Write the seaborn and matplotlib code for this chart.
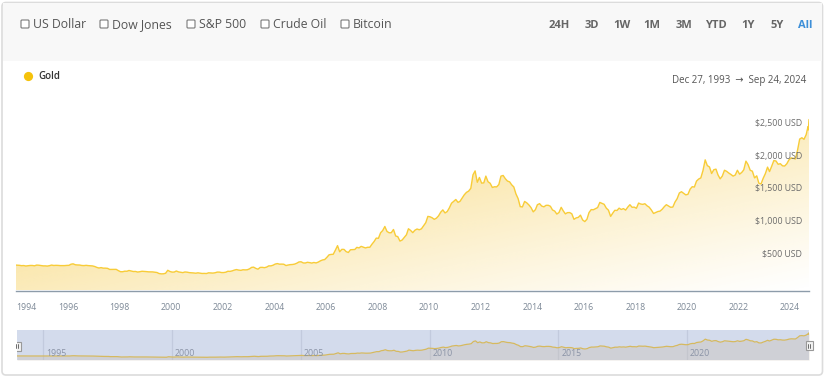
import numpy as np
import pandas as pd
import matplotlib
matplotlib.use("Agg")
import matplotlib.pyplot as plt
import matplotlib.dates as mdates
import matplotlib.transforms as mtransforms
from matplotlib.patches import Rectangle, FancyBboxPatch, Circle
import seaborn as sns

# --------------------------------
# DATA
# --------------------------------

start_date = "1993-12-27"
end_date = "2024-09-24"
start_price = 391
end_price = 2630

# monthly gold price (USD / oz), Jan 1994 .. Aug 2024
gold_usd = [
    387, 382, 384, 377, 381, 385, 385, 380, 391, 389, 384, 379,          # 1994
    379, 376, 382, 391, 385, 387, 386, 383, 383, 383, 386, 387,          # 1995
    405, 410, 396, 393, 392, 385, 383, 387, 383, 381, 378, 369,          # 1996
    355, 346, 352, 344, 344, 341, 324, 324, 323, 325, 306, 289,          # 1997
    289, 297, 296, 308, 299, 292, 293, 284, 289, 296, 294, 291,          # 1998
    287, 287, 286, 282, 277, 261, 256, 257, 265, 311, 293, 283,          # 1999
    284, 300, 286, 280, 275, 285, 282, 275, 273, 270, 266, 272,          # 2000
    266, 262, 263, 261, 272, 270, 268, 273, 283, 283, 276, 276,          # 2001
    282, 296, 294, 302, 314, 322, 314, 310, 319, 317, 319, 333,          # 2002
    356, 359, 340, 328, 355, 356, 351, 360, 379, 379, 389, 407,          # 2003
    414, 405, 406, 404, 384, 392, 398, 400, 406, 420, 439, 442,          # 2004
    424, 423, 434, 429, 422, 431, 424, 437, 456, 470, 476, 510,          # 2005
    549, 555, 557, 620, 690, 596, 633, 632, 598, 585, 627, 629,          # 2006
    631, 664, 655, 679, 667, 655, 665, 665, 712, 754, 806, 803,          # 2007
    889, 922, 985, 909, 888, 889, 939, 839, 829, 760, 776, 816,          # 2008
    858, 950, 924, 890, 928, 946, 934, 949, 996, 1043, 1140, 1134,       # 2009
    1118, 1095, 1113, 1148, 1205, 1240, 1193, 1215, 1271, 1343, 1370, 1400,  # 2010
    1356, 1372, 1424, 1473, 1510, 1529, 1572, 1780, 1840, 1665, 1739, 1652,  # 2011
    1656, 1760, 1673, 1650, 1585, 1596, 1594, 1630, 1760, 1770, 1721, 1684,  # 2012
    1671, 1627, 1593, 1487, 1414, 1290, 1286, 1370, 1349, 1316, 1275, 1210,  # 2013
    1244, 1320, 1336, 1299, 1287, 1310, 1311, 1296, 1239, 1222, 1176, 1200,  # 2014
    1280, 1227, 1179, 1198, 1199, 1181, 1095, 1117, 1125, 1159, 1086, 1060,  # 2015
    1097, 1199, 1245, 1242, 1260, 1276, 1355, 1341, 1326, 1267, 1236, 1140,  # 2016
    1192, 1234, 1231, 1267, 1246, 1260, 1237, 1283, 1320, 1280, 1283, 1265,  # 2017
    1345, 1331, 1325, 1335, 1303, 1282, 1238, 1185, 1199, 1215, 1221, 1250,  # 2018
    1291, 1320, 1300, 1280, 1284, 1360, 1413, 1500, 1520, 1495, 1471, 1480,  # 2019
    1560, 1597, 1592, 1683, 1715, 1732, 1846, 2010, 1922, 1900, 1800, 1858,  # 2020
    1867, 1780, 1718, 1760, 1850, 1834, 1807, 1785, 1760, 1777, 1850, 1790,  # 2021
    1817, 1856, 1990, 1937, 1849, 1836, 1732, 1764, 1650, 1640, 1726, 1798,  # 2022
    1898, 1830, 1913, 1999, 1992, 1942, 1951, 1918, 1915, 1950, 2010, 2040,  # 2023
    2034, 2023, 2160, 2330, 2350, 2326, 2398, 2470,                      # 2024
]

month_dates = pd.date_range("1994-01-15", periods=len(gold_usd), freq="MS") + pd.Timedelta(days=14)
dates = pd.DatetimeIndex([pd.Timestamp(start_date)]).append(month_dates).append(
    pd.DatetimeIndex([pd.Timestamp("2024-09-10"), pd.Timestamp(end_date)]))
prices = [start_price] + gold_usd + [2520, end_price]

df = pd.DataFrame({"date": dates, "price": prices})

y_ticks = [500, 1000, 1500, 2000, 2500]
y_labels = ["$500 USD", "$1,000 USD", "$1,500 USD", "$2,000 USD", "$2,500 USD"]

x_tick_years = list(range(1994, 2025, 2))
nav_years = [1995, 2000, 2005, 2010, 2015, 2020]

series_names = ["US Dollar", "Dow Jones", "S&P 500", "Crude Oil", "Bitcoin"]
ranges = ["24H", "3D", "1W", "1M", "3M", "YTD", "1Y", "5Y", "All"]

# --------------------------------
# STYLE
# --------------------------------

sns.set_style("white")
plt.rcParams["font.family"] = ["Open Sans", "DejaVu Sans"]

W, H = 826, 378
GOLD = "#f8cc38"


def px_rect(x0, y0, x1, y1):
    return [x0 / W, 1 - y1 / H, (x1 - x0) / W, (y1 - y0) / H]


fig = plt.figure(figsize=(W / 100, H / 100), dpi=100)

# --------------------------------
# CARD / HEADER
# --------------------------------

bg = fig.add_axes([0, 0, 1, 1], zorder=0)
bg.set_xlim(0, W)
bg.set_ylim(H, 0)
bg.axis("off")

bg.add_patch(FancyBboxPatch((2, 2.5), 820.5, 372.5,
                            boxstyle="round,pad=0,rounding_size=4",
                            fc="white", ec="#dcdcdc", lw=1.2))
bg.add_patch(Rectangle((2.6, 3.1), 819.3, 58, fc="#f8f8f8", ec="none"))

box_x = [21, 100, 187, 261, 341]
for bx, name in zip(box_x, series_names):
    bg.add_patch(FancyBboxPatch((bx, 20), 8, 8,
                                boxstyle="round,pad=0,rounding_size=1",
                                fc="white", ec="#7a7a7a", lw=0.8))
    bg.text(bx + 12, 24.8, name, fontsize=8.8, color="#555555",
            va="center", ha="left")

range_x = [559, 592, 622, 652, 684, 716, 748, 777, 805]
for rx, r in zip(range_x, ranges):
    bg.text(rx, 25, r, fontsize=8, fontweight="bold",
            color="#3d8fd8" if r == "All" else "#666666",
            va="center", ha="center")

bg.add_patch(Circle((28.5, 76.5), 4.6, fc="#f5c20b", ec="none"))
bg.text(38, 76.5, "Gold", fontsize=7, color="#333333", va="center", ha="left",
        fontweight="semibold")
bg.text(806, 80, "Dec 27, 1993  \u2192  Sep 24, 2024", fontsize=7,
        color="#555555", va="center", ha="right",
        family=["Open Sans", "DejaVu Sans"])

# --------------------------------
# MAIN CHART
# --------------------------------

xmin = mdates.date2num(pd.Timestamp(start_date))
xmax = mdates.date2num(pd.Timestamp(end_date))

ax = fig.add_axes(px_rect(16, 95.5, 809, 290.5), zorder=2)
ax.set_facecolor("none")

sns.lineplot(data=df, x="date", y="price", color=GOLD, linewidth=1.0, ax=ax)

# diagonal gradient fill under the line
poly = ax.fill_between(df["date"], df["price"], 0, color="none", lw=0)
n = 200
u = np.linspace(0, 1, n)[None, :]
v = np.linspace(0, 1, n)[:, None]
t = (u + v) / 2
img = np.zeros((n, n, 4))
img[..., 0] = 245 / 255
img[..., 1] = 200 / 255
img[..., 2] = 66 / 255
img[..., 3] = np.clip(0.78 * (1 - t) ** 1.1, 0, 1)
im = ax.imshow(img, extent=[xmin, xmax, 0, max(prices)], origin="upper",
               aspect="auto", zorder=0.5, interpolation="bilinear")
im.set_clip_path(poly.get_paths()[0], transform=ax.transData)

ax.set_xlim(xmin, xmax)
ax.set_ylim(0, 3000)
ax.set_xlabel("")
ax.set_ylabel("")
ax.set_yticks([])

tick_dates = [pd.Timestamp(f"{y}-01-01") for y in x_tick_years]
ax.set_xticks(mdates.date2num(tick_dates))
ax.set_xticklabels([str(y) for y in x_tick_years])
ax.tick_params(axis="x", length=5.5, width=1, color="#8d9caa",
               labelsize=6.3, labelcolor="#7c8896", pad=3.5)
ax.get_xticklabels()[0].set_ha("left")

for side in ["top", "left", "right"]:
    ax.spines[side].set_visible(False)
ax.spines["bottom"].set_color("#8d9caa")
ax.spines["bottom"].set_linewidth(1)

label_tr = mtransforms.offset_copy(
    mtransforms.blended_transform_factory(ax.transAxes, ax.transData),
    fig=fig, x=-7, y=4, units="dots")
for val, lab in zip(y_ticks, y_labels):
    ax.text(1.0, val, lab, transform=label_tr, fontsize=6.3,
            color="#6b6b6b", ha="right", va="center")

# --------------------------------
# NAVIGATOR
# --------------------------------

nav = fig.add_axes(px_rect(17, 330, 809, 360), zorder=2)
nav.set_facecolor("#d3dbec")

nav.fill_between(df["date"], df["price"], 0, color="#c9c0b3", alpha=0.38, lw=0)
sns.lineplot(data=df, x="date", y="price", color="#d6b95f", linewidth=0.9, ax=nav)

nav_tr = mtransforms.offset_copy(
    mtransforms.blended_transform_factory(nav.transData, nav.transAxes),
    fig=fig, x=3, y=0, units="dots")
for yr in nav_years:
    d = mdates.date2num(pd.Timestamp(f"{yr}-01-01"))
    nav.axvline(d, color="#c2cadd", lw=0.9, zorder=0.8)
    nav.text(d, 0.2, str(yr), transform=nav_tr, fontsize=6.3,
             color="#8a93a6", ha="left", va="center")

nav.set_xlim(xmin, xmax)
nav.set_ylim(0, 2890)
nav.set_xlabel("")
nav.set_ylabel("")
nav.set_xticks([])
nav.set_yticks([])
for side in nav.spines:
    nav.spines[side].set_visible(False)

# navigator handles
fg = fig.add_axes([0, 0, 1, 1], zorder=5)
fg.set_xlim(0, W)
fg.set_ylim(H, 0)
fg.axis("off")
fg.set_facecolor("none")
for hx, hy in [(13.5, 341.5), (805.5, 341)]:
    fg.add_patch(Rectangle((hx, hy), 7, 9, fc="#f2f2f2", ec="#999999", lw=0.8))
    fg.plot([hx + 2.7, hx + 2.7], [hy + 2.5, hy + 6.5], color="#555555", lw=0.6)
    fg.plot([hx + 4.3, hx + 4.3], [hy + 2.5, hy + 6.5], color="#555555", lw=0.6)
fg.add_patch(Rectangle((2.6, 335), 13.9, 20, fc="white", ec="none"))

plt.savefig("out.png", dpi=100)
